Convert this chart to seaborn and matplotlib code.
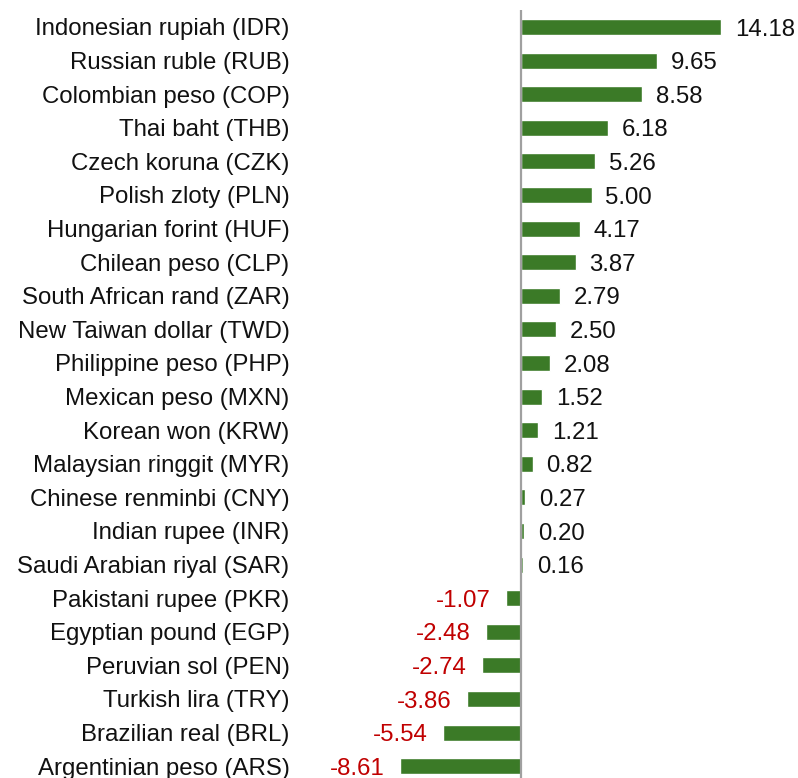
import matplotlib
matplotlib.use("Agg")
import matplotlib.pyplot as plt
import seaborn as sns
import pandas as pd

categories = [
    "Indonesian rupiah (IDR)", "Russian ruble (RUB)", "Colombian peso (COP)",
    "Thai baht (THB)", "Czech koruna (CZK)", "Polish zloty (PLN)",
    "Hungarian forint (HUF)", "Chilean peso (CLP)", "South African rand (ZAR)",
    "New Taiwan dollar (TWD)", "Philippine peso (PHP)", "Mexican peso (MXN)",
    "Korean won (KRW)", "Malaysian ringgit (MYR)", "Chinese renminbi (CNY)",
    "Indian rupee (INR)", "Saudi Arabian riyal (SAR)", "Pakistani rupee (PKR)",
    "Egyptian pound (EGP)", "Peruvian sol (PEN)", "Turkish lira (TRY)",
    "Brazilian real (BRL)", "Argentinian peso (ARS)",
]
values = [14.18, 9.65, 8.58, 6.18, 5.26, 5.00, 4.17, 3.87, 2.79, 2.50, 2.08,
          1.52, 1.21, 0.82, 0.27, 0.20, 0.16, -1.07, -2.48, -2.74, -3.86,
          -5.54, -8.61]

sns.set_theme(style="white")
plt.rcParams['font.family'] = ['Liberation Sans', 'DejaVu Sans']

W, H, DPI = 798, 778, 100
fig = plt.figure(figsize=(W / DPI, H / DPI), dpi=DPI)

zero_px = 521.0
ppu = 14.1
left_px, right_px = 300.0, 798.0
top_px = 10.2
row_px = 33.6

ax = fig.add_axes([left_px / W, 0, (right_px - left_px) / W, (H - top_px) / H])

df = pd.DataFrame({"currency": categories, "value": values})
sns.barplot(data=df, x="value", y="currency", color="#3b7a27", saturation=1,
            width=0.48, ax=ax, orient="h")

ax.set_xlim((left_px - zero_px) / ppu, (right_px - zero_px) / ppu)
ax.set_ylim(-0.5 + (H - top_px) / row_px, -0.5)
for s in ax.spines.values():
    s.set_visible(False)
ax.axvline(0, color="#a0a0a0", lw=1.6, zorder=3)
ax.set_xticks([])
ax.set_xlabel("")
ax.set_ylabel("")
ax.tick_params(axis="y", length=0, pad=7.5, labelsize=17.3, labelcolor="#111111")
for lab in ax.get_yticklabels():
    lab.set_verticalalignment("center_baseline")

for i, v in enumerate(values):
    if v >= 0:
        ax.annotate(f"{v:.2f}", (v, i), xytext=(10, 0), textcoords="offset points",
                    ha="left", va="center_baseline", fontsize=17.3, color="#111111")
    else:
        ax.annotate(f"{v:.2f}", (v, i), xytext=(-11, 0), textcoords="offset points",
                    ha="right", va="center_baseline", fontsize=17.3, color="#c00000")

fig.savefig("out.png", dpi=DPI)
